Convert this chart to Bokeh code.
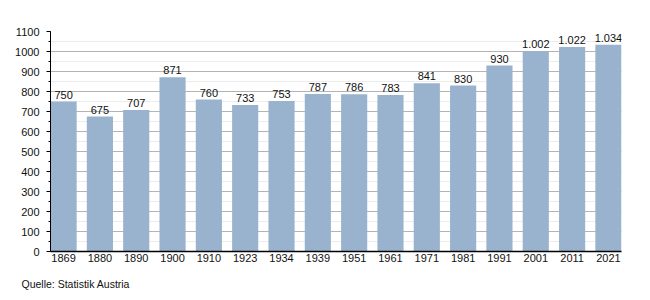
from bokeh.plotting import figure
from bokeh.models import ColumnDataSource, FixedTicker, SingleIntervalTicker, Range1d, Title
from bokeh.core.properties import value
from bokeh.embed import file_html
from bokeh.resources import INLINE

years = ["1869", "1880", "1890", "1900", "1910", "1923", "1934", "1939",
         "1951", "1961", "1971", "1981", "1991", "2001", "2011", "2021"]
population = [750, 675, 707, 871, 760, 733, 753, 787, 786, 783, 841, 830, 930, 1002, 1022, 1034]
source_text = "Quelle: Statistik Austria"

def fmt(v):
    return f"{v:,}".replace(",", ".")

xs = list(range(len(years)))
src = ColumnDataSource(dict(x=xs, top=population, label=[fmt(v) for v in population]))

FONT = "Liberation Sans"
bw = 0.72
p = figure(width=650, height=300, output_backend="svg", toolbar_location=None,
           x_range=Range1d(-bw / 2, len(years) - 1 + bw / 2), y_range=Range1d(0, 1100),
           min_border_left=50, min_border_right=29, min_border_top=31, min_border_bottom=0)
p.outline_line_color = None
p.background_fill_color = "white"

p.vbar(x="x", top="top", width=bw, bottom=0, source=src, fill_color="#99b3cf", line_color=None)
p.text(x="x", y="top", text="label", source=src, text_align="center", text_baseline="bottom",
       y_offset=-3, text_font=value(FONT), text_font_size="11px", text_color="#111111")

p.xgrid.grid_line_color = None
p.yaxis.ticker = SingleIntervalTicker(interval=100, num_minor_ticks=2)
p.ygrid.ticker = SingleIntervalTicker(interval=100, num_minor_ticks=2)
p.ygrid.grid_line_color = "#b4b4b4"
p.ygrid.minor_grid_line_color = "#ececec"

p.xaxis.ticker = FixedTicker(ticks=xs)
p.xaxis.major_label_overrides = {i: y for i, y in enumerate(years)}
p.xaxis.major_tick_line_color = None
p.xaxis.minor_tick_line_color = None
p.xaxis.major_tick_out = 0
p.xaxis.major_tick_in = 0
p.xaxis.minor_tick_out = 0
p.xaxis.axis_line_color = "black"
p.xaxis.axis_line_width = 1.5
p.xaxis.major_label_standoff = 2

p.yaxis.axis_line_color = "black"
p.yaxis.major_tick_out = 4
p.yaxis.major_tick_in = 0
p.yaxis.minor_tick_out = 2
p.yaxis.minor_tick_in = 0
p.yaxis.major_label_standoff = 7

for ax in (p.xaxis[0], p.yaxis[0]):
    ax.major_label_text_font = FONT
    ax.major_label_text_font_size = "11px"
    ax.major_label_text_color = "#111111"

p.add_layout(Title(text=source_text, align="left", offset=-38, standoff=4, padding=9,
                   text_font=FONT, text_font_size="10.5px", text_font_style="normal",
                   text_color="#111111"), "below")

open("out.html", "w").write(file_html(p, INLINE))
